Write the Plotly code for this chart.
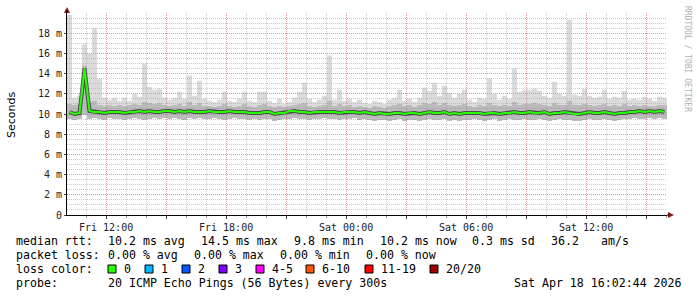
import datetime as dt
import plotly.graph_objects as go

# ---------------- data (ms), one value per 15-minute column ----------------
start = dt.datetime(2026, 4, 17, 10, 2, 44)
end = dt.datetime(2026, 4, 18, 16, 2, 44)
step_min = 15

median_ms = [
10.2, 10.0, 10.1, 14.5, 10.3, 10.2, 10.2, 10.1, 10.2, 10.2,
10.2, 10.1, 10.2, 10.2, 10.3, 10.2, 10.3, 10.2, 10.2, 10.3,
10.3, 10.2, 10.3, 10.2, 10.3, 10.2, 10.2, 10.2, 10.3, 10.2,
10.2, 10.2, 10.3, 10.2, 10.2, 10.2, 10.1, 10.1, 10.1, 10.2,
10.2, 10.0, 10.1, 10.1, 10.3, 10.3, 10.2, 10.2, 10.1, 10.2,
10.2, 10.2, 10.2, 10.2, 10.1, 10.2, 10.2, 10.2, 10.1, 10.2,
10.1, 10.0, 10.1, 10.0, 10.0, 10.1, 10.1, 10.0, 10.1, 10.1,
10.0, 10.1, 10.2, 10.1, 10.1, 10.2, 10.0, 10.1, 10.0, 10.1,
10.1, 10.1, 10.1, 10.0, 10.1, 10.1, 10.0, 10.1, 10.1, 10.2,
10.1, 10.1, 10.2, 10.1, 10.1, 10.2, 10.0, 10.1, 10.1, 10.2,
10.1, 10.0, 10.0, 10.1, 10.2, 10.1, 10.1, 10.2, 10.1, 10.0,
10.1, 10.1, 10.2, 10.2, 10.3, 10.2, 10.3, 10.2, 10.3, 10.2,
]

max_ms = [
19.8, 11.6, 11.8, 16.9, 16.0, 18.5, 13.5, 11.6, 11.4, 11.6,
11.3, 11.6, 11.3, 12.0, 11.7, 15.0, 12.7, 12.4, 12.5, 11.6,
11.4, 11.6, 12.2, 11.5, 13.8, 11.8, 13.3, 11.5, 11.3, 11.2,
11.4, 12.2, 11.3, 11.2, 11.5, 12.2, 11.3, 11.2, 12.2, 12.2,
11.3, 11.1, 11.5, 11.0, 11.2, 11.6, 12.2, 13.1, 11.5, 11.2,
11.4, 11.8, 15.8, 11.4, 12.4, 11.3, 11.5, 11.2, 11.4, 11.1,
11.0, 11.3, 11.2, 11.0, 11.4, 11.6, 12.4, 11.3, 11.5, 11.2,
11.6, 12.6, 12.3, 13.1, 11.8, 12.8, 12.1, 11.6, 12.0, 12.4,
11.4, 11.2, 11.6, 11.5, 13.5, 12.0, 11.4, 11.8, 11.5, 14.5,
12.2, 12.4, 12.4, 12.5, 12.3, 11.8, 11.6, 13.2, 12.0, 11.8,
19.3, 11.9, 11.8, 12.5, 11.8, 11.6, 11.7, 12.4, 11.5, 11.7,
11.6, 12.3, 11.4, 11.5, 11.4, 11.7, 11.5, 11.3, 11.7, 11.6,
]

upper_ms = [
11.0, 10.9, 11.0, 14.8, 11.2, 11.3, 10.9, 10.8, 10.9, 10.8,
10.9, 10.8, 10.9, 11.0, 10.9, 11.2, 11.1, 11.0, 11.1, 10.9,
10.8, 10.9, 11.0, 10.8, 11.2, 10.9, 11.1, 10.8, 10.8, 10.7,
10.8, 11.0, 10.8, 10.7, 10.8, 11.0, 10.8, 10.7, 10.9, 11.0,
10.8, 10.7, 10.8, 10.7, 10.8, 10.9, 11.0, 11.1, 10.8, 10.7,
10.8, 10.9, 11.3, 10.8, 11.0, 10.8, 10.9, 10.7, 10.8, 10.7,
10.6, 10.8, 10.7, 10.6, 10.8, 10.9, 11.0, 10.8, 10.9, 10.7,
10.9, 11.1, 11.0, 11.2, 10.9, 11.1, 10.9, 10.8, 10.9, 11.0,
10.8, 10.7, 10.9, 10.8, 11.1, 10.9, 10.8, 10.9, 10.8, 11.2,
10.9, 11.0, 11.0, 11.1, 11.0, 10.9, 10.8, 11.1, 10.9, 10.9,
11.3, 10.9, 10.9, 11.0, 10.9, 10.8, 10.9, 11.0, 10.8, 10.9,
10.8, 11.0, 10.8, 10.9, 10.8, 10.9, 10.8, 10.8, 10.9, 10.9,
]

min_ms = [
9.5, 9.4, 9.5, 9.9, 9.5, 9.6, 9.5, 9.4, 9.6, 9.5,
9.5, 9.4, 9.5, 9.6, 9.5, 9.4, 9.5, 9.6, 9.5, 9.6,
9.5, 9.6, 9.5, 9.4, 9.6, 9.5, 9.6, 9.5, 9.5, 9.6,
9.5, 9.4, 9.5, 9.6, 9.5, 9.5, 9.4, 9.5, 9.4, 9.5,
9.5, 9.3, 9.4, 9.5, 9.5, 9.6, 9.5, 9.5, 9.4, 9.5,
9.5, 9.6, 9.5, 9.5, 9.4, 9.5, 9.5, 9.6, 9.4, 9.5,
9.4, 9.3, 9.4, 9.4, 9.3, 9.4, 9.5, 9.3, 9.4, 9.4,
9.3, 9.4, 9.5, 9.4, 9.4, 9.5, 9.3, 9.4, 9.3, 9.4,
9.4, 9.5, 9.4, 9.3, 9.4, 9.5, 9.3, 9.4, 9.5, 9.4,
9.4, 9.5, 9.4, 9.4, 9.5, 9.4, 9.3, 9.4, 9.5, 9.4,
9.4, 9.3, 9.3, 9.4, 9.5, 9.4, 9.4, 9.5, 9.4, 9.3,
9.4, 9.5, 9.5, 9.6, 9.5, 9.5, 9.6, 9.5, 9.6, 9.5,
]

y_tick_vals = [0, 2, 4, 6, 8, 10, 12, 14, 16, 18]
y_tick_text = ["0", "2 m", "4 m", "6 m", "8 m", "10 m", "12 m", "14 m", "16 m", "18 m"]

x_tick_vals = [dt.datetime(2026, 4, 17, 12) + dt.timedelta(hours=3 * i) for i in range(10)]
x_tick_text = ["Fri 12:00", "", "Fri 18:00", "", "Sat 00:00", "", "Sat 06:00", "", "Sat 12:00", ""]

legend_colors = ["#26ff00", "#00b8ff", "#0059ff", "#7e00ff", "#ff00ff", "#ff5500", "#ff0000", "#a10000"]
legend_labels = ["0", "1", "2", "3", "4-5", "6-10", "11-19", "20/20"]

# ---------------- helpers ----------------
n = len(median_ms)
edges = [start + dt.timedelta(minutes=step_min * i) for i in range(n + 1)]
centers = [start + dt.timedelta(minutes=step_min * (i + 0.5)) for i in range(n)]


def stepped(vals):
    return list(vals) + [vals[-1]]


PL, PR, PT, PB = 67, 30, 13, 82
W, H = 697, 297
PW, PH = W - PL - PR, H - PT - PB


def px(X):
    return (X - PL) / PW


def py(Y):
    return (PT + PH - Y) / PH


MONO = "DejaVu Sans Mono"

fig = go.Figure()

# light smoke (min .. max)
fig.add_trace(go.Scatter(x=edges, y=stepped(min_ms), mode="lines", line=dict(width=0, shape="hv"),
                         hoverinfo="skip", showlegend=False))
fig.add_trace(go.Scatter(x=edges, y=stepped(max_ms), mode="lines", line=dict(width=0, shape="hv"),
                         fill="tonexty", fillcolor="rgba(170,170,170,0.42)", hoverinfo="skip", showlegend=False))
# denser smoke (min .. upper)
fig.add_trace(go.Scatter(x=edges, y=stepped(min_ms), mode="lines", line=dict(width=0, shape="hv"),
                         hoverinfo="skip", showlegend=False))
fig.add_trace(go.Scatter(x=edges, y=stepped(upper_ms), mode="lines", line=dict(width=0, shape="hv"),
                         fill="tonexty", fillcolor="rgba(120,120,120,0.32)", hoverinfo="skip", showlegend=False))
# dark core around median
fig.add_trace(go.Scatter(x=centers, y=median_ms, mode="lines",
                         line=dict(width=4, color="rgba(30,30,30,0.7)"),
                         hoverinfo="skip", showlegend=False))
# median line
fig.add_trace(go.Scatter(x=centers, y=median_ms, mode="lines",
                         line=dict(width=2, color="#26ff00"),
                         showlegend=False))

grid_red = "rgba(230,140,140,0.8)"
grid_grey = "rgba(190,190,190,0.8)"
DOT = "1px,1px"

fig.update_xaxes(
    type="date", range=[start, end],
    tickmode="array", tickvals=x_tick_vals, ticktext=x_tick_text,
    showgrid=True, gridcolor=grid_red, griddash=DOT, gridwidth=1,
    minor=dict(tickmode="linear", tick0="2026-04-17 00:00", dtick=3600000,
               showgrid=True, gridcolor=grid_grey, griddash=DOT, gridwidth=1,
               ticks="outside", ticklen=2, tickcolor="#999"),
    ticks="outside", ticklen=3, tickcolor="#444",
    showline=True, linecolor="#000", linewidth=1, zeroline=False,
    tickfont=dict(family=MONO, size=10, color="#222"),
)
fig.update_yaxes(
    range=[0, 20],
    tickmode="array", tickvals=y_tick_vals, ticktext=y_tick_text,
    showgrid=True, gridcolor=grid_red, griddash=DOT, gridwidth=1,
    minor=dict(tickmode="linear", tick0=0, dtick=0.5,
               showgrid=True, gridcolor=grid_grey, griddash=DOT, gridwidth=1),
    ticks="outside", ticklen=2, tickcolor="#444",
    showline=True, linecolor="#000", linewidth=1, zeroline=False,
    tickfont=dict(family=MONO, size=10, color="#222"),
)

shapes = []
# axis arrows
shapes.append(dict(type="path", xref="paper", yref="paper",
                   path=f"M {px(64)} {py(13)} L {px(70)} {py(13)} L {px(67)} {py(7)} Z",
                   fillcolor="#8b1a1a", line=dict(width=0)))
shapes.append(dict(type="line", xref="paper", yref="paper", x0=px(67), x1=px(67), y0=py(13), y1=py(10),
                   line=dict(color="#000", width=1)))
shapes.append(dict(type="path", xref="paper", yref="paper",
                   path=f"M {px(668)} {py(212)} L {px(668)} {py(218)} L {px(674)} {py(215)} Z",
                   fillcolor="#8b1a1a", line=dict(width=0)))
shapes.append(dict(type="line", xref="paper", yref="paper", x0=px(667), x1=px(669), y0=py(215), y1=py(215),
                   line=dict(color="#000", width=1)))

annotations = []


def text(X, Y, s, size=11.6, color="#000", family=MONO, anchor="left", angle=0):
    annotations.append(dict(xref="paper", yref="paper", x=px(X), y=py(Y), text=s, showarrow=False,
                            xanchor=anchor, yanchor="middle", textangle=angle,
                            font=dict(family=family, size=size, color=color), borderpad=0))


# axis title and watermark
text(11, 115, "Seconds", size=11, family="DejaVu Sans", anchor="center", angle=-90)
text(687, 59, "RRDTOOL / TOBI OETIKER", size=8, color="#b0b0b0", anchor="center", angle=90)

# legend lines
L1, L2, L3, L4 = 241.5, 255.2, 269, 282.8
text(15, L1, "median rtt:")
for X, s in [(106.5, "10.2 ms avg"), (199.5, "14.5 ms max"), (292.5, "9.8 ms min"),
             (378.5, "10.2 ms now"), (471, "0.3 ms sd"), (549.5, "36.2")]:
    text(X, L1, s)
text(599.5, L1, "am/s")
text(15, L2, "packet loss:")
for X, s in [(106.5, "0.00 % avg"), (192.5, "0.00 % max"), (278.5, "0.00 % min"), (364.5, "0.00 % now")]:
    text(X, L2, s)
text(15, L3, "loss color:")
box_x = [108, 145, 182, 219, 256, 306, 365, 430]
for bx, col, lab in zip(box_x, legend_colors, legend_labels):
    shapes.append(dict(type="rect", xref="paper", yref="paper",
                       x0=px(bx), x1=px(bx + 8), y0=py(273), y1=py(265),
                       fillcolor=col, line=dict(color="#000", width=1)))
    text(bx + 15, L3, lab)
text(15, L4, "probe:")
text(106.5, L4, "20 ICMP Echo Pings (56 Bytes) every 300s")
text(512.5, L4, "Sat Apr 18 16:02:44 2026")

fig.update_layout(
    width=W, height=H,
    margin=dict(l=PL, r=PR, t=PT, b=PB, pad=0),
    paper_bgcolor="#ffffff", plot_bgcolor="#ffffff",
    shapes=shapes, annotations=annotations,
    showlegend=False,
)

fig.write_html("out.html")
